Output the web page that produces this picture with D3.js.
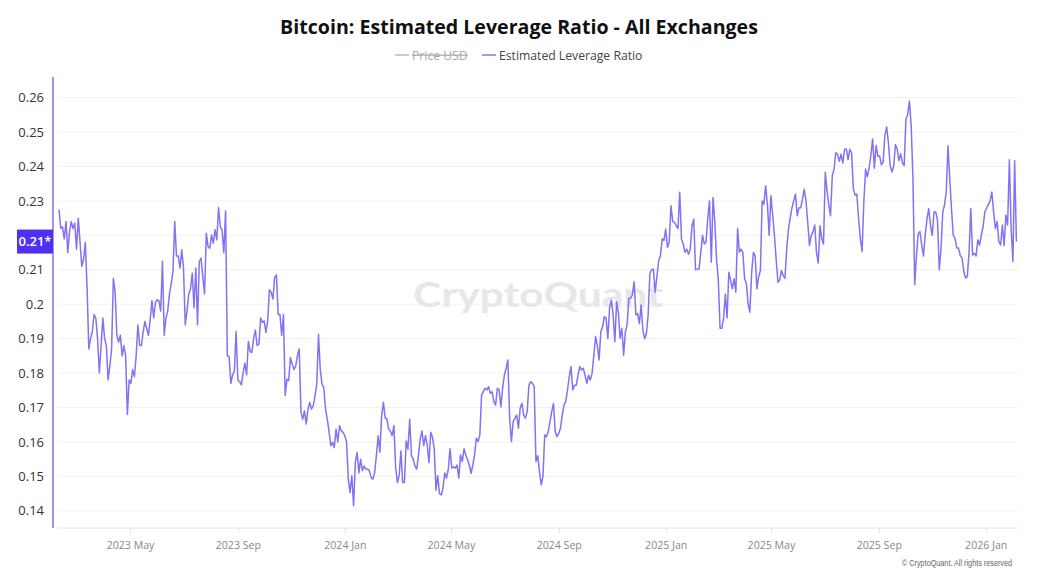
<!DOCTYPE html>
<html>
<head>
<meta charset="utf-8">
<script src="https://cdn.jsdelivr.net/npm/d3@7"></script>
<style>
  body { margin: 0; background: #fff; }
  svg { display: block; font-family: "Open Sans", "Noto Sans", sans-serif; }
</style>
</head>
<body>
<svg id="chart" width="1038" height="576"></svg>
<script>
const titleText = 'Bitcoin: Estimated Leverage Ratio - All Exchanges';
const legendNames = ['Price USD', 'Estimated Leverage Ratio'];

// daily series sampled every 2 days, first point 2023-02-09
const startDate = '2023-02-09';
const stepDays = 2;
const leverageRatio = [
  0.2275,0.222,0.2225,0.219,0.224,0.215,0.221,0.224,0.222,0.2235,
  0.216,0.225,0.218,0.211,0.213,0.218,0.205,0.187,0.190,0.192,
  0.197,0.196,0.190,0.180,0.188,0.196,0.190,0.188,0.178,0.182,
  0.187,0.2075,0.2036,0.191,0.189,0.191,0.185,0.188,0.185,0.168,
  0.178,0.177,0.181,0.179,0.185,0.194,0.188,0.188,0.192,0.195,
  0.193,0.191,0.1955,0.201,0.196,0.2005,0.2013,0.201,0.198,0.2125,
  0.191,0.196,0.198,0.203,0.206,0.2095,0.224,0.214,0.214,0.2105,
  0.2158,0.2105,0.194,0.198,0.203,0.2045,0.209,0.199,0.2105,0.194,
  0.2124,0.2134,0.208,0.203,0.2206,0.2167,0.2163,0.2201,0.2177,0.2216,
  0.2187,0.2281,0.2225,0.2215,0.215,0.2271,0.185,0.1848,0.177,0.1795,
  0.1805,0.1921,0.178,0.1775,0.1766,0.18,0.1829,0.1795,0.1892,0.1862,
  0.186,0.190,0.1925,0.188,0.1884,0.196,0.1947,0.1952,0.1918,0.1952,
  0.2042,0.2034,0.2015,0.2078,0.2085,0.197,0.197,0.191,0.197,0.1735,
  0.1782,0.1778,0.1845,0.1826,0.181,0.1821,0.185,0.187,0.1686,0.1666,
  0.169,0.1652,0.1695,0.1715,0.1695,0.1705,0.1734,0.1768,0.1913,0.181,
  0.1768,0.1758,0.1695,0.1666,0.163,0.1589,0.1599,0.1584,0.1637,0.160,
  0.1647,0.1632,0.1628,0.1618,0.160,0.1492,0.1453,0.1502,0.1415,0.154,
  0.157,0.151,0.155,0.1516,0.153,0.1521,0.1521,0.1516,0.1497,0.1492,
  0.1511,0.156,0.1618,0.157,0.1676,0.1715,0.167,0.1666,0.1637,0.1632,
  0.1618,0.1647,0.1525,0.1482,0.1502,0.1574,0.1482,0.1482,0.1603,0.1579,
  0.1666,0.156,0.155,0.153,0.1521,0.156,0.1608,0.1632,0.1589,0.1618,
  0.159,0.154,0.1628,0.1613,0.1579,0.146,0.1502,0.145,
  0.1446,0.1466,0.151,0.1495,0.152,0.158,0.1524,0.1528,0.1524,0.1533,
  0.1495,0.1562,0.1543,0.158,0.1562,0.1548,0.1533,0.1509,0.1533,0.1562,
  0.1611,0.1601,0.162,0.1736,0.1746,0.1756,0.1751,0.1761,0.1741,0.1746,
  0.1717,0.1707,0.1756,0.1751,0.1702,0.1756,0.1794,0.1814,0.1838,0.1669,
  0.1601,0.1659,0.1669,0.1678,0.164,0.1698,0.1712,0.1678,0.1669,0.1688,
  0.1765,0.1775,0.177,0.1761,0.1543,0.156,0.1514,0.1475,0.150,0.162,
  0.1615,0.163,0.1659,0.1688,0.1712,0.163,0.1615,0.1625,0.164,0.1678,
  0.1707,0.1717,0.1751,0.179,0.1819,0.1751,0.1765,0.1765,0.1794,0.1819,
  0.1809,0.1814,0.1794,0.177,0.1794,0.178,0.1799,0.185,0.1906,0.188,
  0.1838,0.192,0.1935,0.1964,0.1959,0.19,0.199,0.2012,0.197,0.1891,
  0.2007,0.1975,0.1901,0.193,0.1852,0.192,0.194,0.2017,0.2017,0.2027,
  0.2065,0.1969,0.1973,0.1944,0.1998,0.1925,0.19,0.1915,0.197,0.209,
  0.21,0.2102,0.2035,0.208,0.2127,0.2141,0.219,0.2185,0.2218,0.2165,
  0.218,0.2286,0.224,0.2238,0.2228,0.222,0.2325,0.2189,0.2175,0.2151,
  0.216,0.2145,0.216,0.2228,0.2247,0.21,0.2102,0.2102,0.215,0.22,
  0.2175,0.218,0.225,0.23,0.2122,0.231,0.224,0.2131,0.207,0.193,
  0.193,0.1958,0.203,0.196,0.2093,0.207,0.2045,0.2074,0.2035,0.222,
  0.2151,0.216,0.215,0.2074,0.206,0.20,0.1977,0.209,0.215,0.2141,
  0.2045,0.208,0.2098,0.23,0.229,0.2344,0.229,0.22,0.2315,0.226,
  0.22,0.213,0.2064,0.207,0.2098,0.2083,0.2075,0.216,0.2218,0.225,
  0.228,0.23,0.232,0.2257,0.228,0.228,0.2305,0.2334,0.23,0.2238,
  0.217,0.22,0.221,0.223,0.215,0.212,0.2228,0.219,0.2175,0.2383,
  0.233,0.229,0.2257,0.2373,0.2392,0.244,0.2436,0.2415,
  0.2436,0.241,0.245,0.2451,0.242,0.245,0.244,0.2336,0.2317,0.232,
  0.2249,0.219,0.2153,0.2297,0.2393,0.237,0.2395,0.2432,0.248,0.2395,
  0.2461,0.243,0.243,0.2405,0.2413,0.249,0.2515,0.247,0.2403,0.2384,
  0.24,0.2464,0.2451,0.2417,0.2437,0.241,0.2403,0.2538,0.255,0.259,
  0.2518,0.2365,0.2057,0.214,0.2205,0.2211,0.2172,0.214,0.2201,0.2247,
  0.2278,0.223,0.22,0.2268,0.2268,0.2245,0.21,0.216,0.2268,0.2288,
  0.2326,0.246,0.2365,0.2275,0.22,0.2191,0.2163,0.2163,0.2141,0.2134,
  0.2095,0.2076,0.208,0.215,0.2278,0.2143,0.2148,0.214,0.2187,0.2172,
  0.2201,0.2225,0.2268,0.2278,0.229,0.23,0.2326,0.2268,0.222,0.224,
  0.2182,0.2172,0.223,0.217,0.2259,0.223,0.242,0.222,0.2124,0.2417,
  0.2182
];

const yTicks = [0.14, 0.15, 0.16, 0.17, 0.18, 0.19, 0.2, 0.21, 0.22, 0.23, 0.24, 0.25, 0.26];
const xTicks = ['2023-05-01', '2023-09-01', '2024-01-01', '2024-05-01', '2024-09-01',
  '2025-01-01', '2025-05-01', '2025-09-01', '2026-01-01'];

const lineColor = '#8770f4';
const badgeColor = '#4f2ff0';

const svg = d3.select('#chart');
const t0 = d3.utcParse('%Y-%m-%d')(startDate);
const data = leverageRatio.map((v, i) => ({date: d3.utcDay.offset(t0, i * stepDays), value: v}));
const last = data[data.length - 1];

const plot = {left: 58, right: 1018, top: 77, bottom: 528};

const x = d3.scaleUtc()
    .domain([data[0].date, last.date])
    .range([59, 1016.4]);

const y = d3.scaleLinear()
    .domain([0.135, 0.266])
    .range([plot.bottom, plot.top]);

// title + legend
svg.append('text')
    .attr('x', 519).attr('y', 34)
    .attr('text-anchor', 'middle')
    .attr('font-size', 19.6).attr('font-weight', 700)
    .attr('fill', '#111')
    .text(titleText);

const legend = svg.append('g').attr('transform', 'translate(0, 55)');
legend.append('line').attr('x1', 395).attr('x2', 409).attr('y1', 0).attr('y2', 0)
    .attr('stroke', '#bbb').attr('stroke-width', 1.5);
legend.append('text').attr('x', 412).attr('y', 4.5)
    .attr('font-size', 12.2).attr('fill', '#aaa')
    .attr('text-decoration', 'line-through')
    .text(legendNames[0]);
legend.append('line').attr('x1', 482).attr('x2', 496).attr('y1', 0).attr('y2', 0)
    .attr('stroke', lineColor).attr('stroke-width', 1.5);
legend.append('text').attr('x', 499).attr('y', 4.5)
    .attr('font-size', 12.2).attr('fill', '#444')
    .text(legendNames[1]);

// grid
svg.append('g')
    .selectAll('line')
    .data(yTicks)
    .enter()
    .append('line')
    .attr('x1', plot.left).attr('x2', plot.right)
    .attr('y1', (d) => y(d)).attr('y2', (d) => y(d))
    .attr('stroke', '#f1f1f3');

// watermark
svg.append('text')
    .attr('x', 413).attr('y', 307)
    .attr('font-family', 'Lato, sans-serif')
    .attr('font-size', 35).attr('font-weight', 700)
    .attr('fill', '#e6e6eb')
    .attr('textLength', 250)
    .attr('lengthAdjust', 'spacingAndGlyphs')
    .text('CryptoQuant');

// series
svg.append('path')
    .datum(data)
    .attr('fill', 'none')
    .attr('stroke', lineColor)
    .attr('stroke-width', 1.5)
    .attr('stroke-linejoin', 'round')
    .attr('d', d3.line().x((d) => x(d.date)).y((d) => y(d.value)));

// x axis
const xAxis = d3.axisBottom(x)
    .tickValues(xTicks.map((s) => d3.utcParse('%Y-%m-%d')(s)))
    .tickFormat(d3.utcFormat('%Y %b'))
    .tickSize(5)
    .tickPadding(8);

const gx = svg.append('g')
    .attr('transform', `translate(0, ${plot.bottom})`)
    .call(xAxis);
gx.select('.domain').remove();
gx.selectAll('.tick line').attr('stroke', '#e2e2e8');
gx.selectAll('.tick text').attr('fill', '#888').attr('font-size', 10.6)
    .attr('font-family', '"Open Sans", sans-serif');
gx.append('line')
    .attr('x1', plot.left).attr('x2', plot.right)
    .attr('stroke', '#e2e2ea');

// y axis (label under the badge is hidden)
const badgeY = y(last.value);
const yAxis = d3.axisLeft(y)
    .tickValues(yTicks.filter((t) => Math.abs(y(t) - badgeY) > 12))
    .tickFormat((d) => String(+d.toFixed(2)))
    .tickSize(0)
    .tickPadding(9);

const gy = svg.append('g')
    .attr('transform', 'translate(53, 0)')
    .call(yAxis);
gy.select('.domain').remove();
gy.selectAll('.tick text').attr('fill', '#333').attr('font-size', 13)
    .attr('font-family', '"Open Sans", sans-serif');

svg.append('line')
    .attr('x1', 53).attr('x2', 53)
    .attr('y1', plot.top).attr('y2', plot.bottom)
    .attr('stroke', lineColor).attr('stroke-width', 1.5);

// current value badge
svg.append('rect')
    .attr('x', 17).attr('y', badgeY - 12)
    .attr('width', 36).attr('height', 24)
    .attr('fill', badgeColor);
svg.append('text')
    .attr('x', 35).attr('y', badgeY + 4.5)
    .attr('text-anchor', 'middle')
    .attr('font-size', 13).attr('font-weight', 600)
    .attr('fill', '#fff')
    .text((Math.floor(last.value * 100) / 100).toFixed(2) + '*');

// footer
svg.append('text')
    .attr('x', 1012).attr('y', 566)
    .attr('text-anchor', 'end')
    .attr('font-family', '"Liberation Sans", Arial, sans-serif')
    .attr('font-size', 9).attr('fill', '#666')
    .attr('textLength', 110)
    .attr('lengthAdjust', 'spacingAndGlyphs')
    .text('\u00a9 CryptoQuant. All rights reserved');
</script>
</body>
</html>
